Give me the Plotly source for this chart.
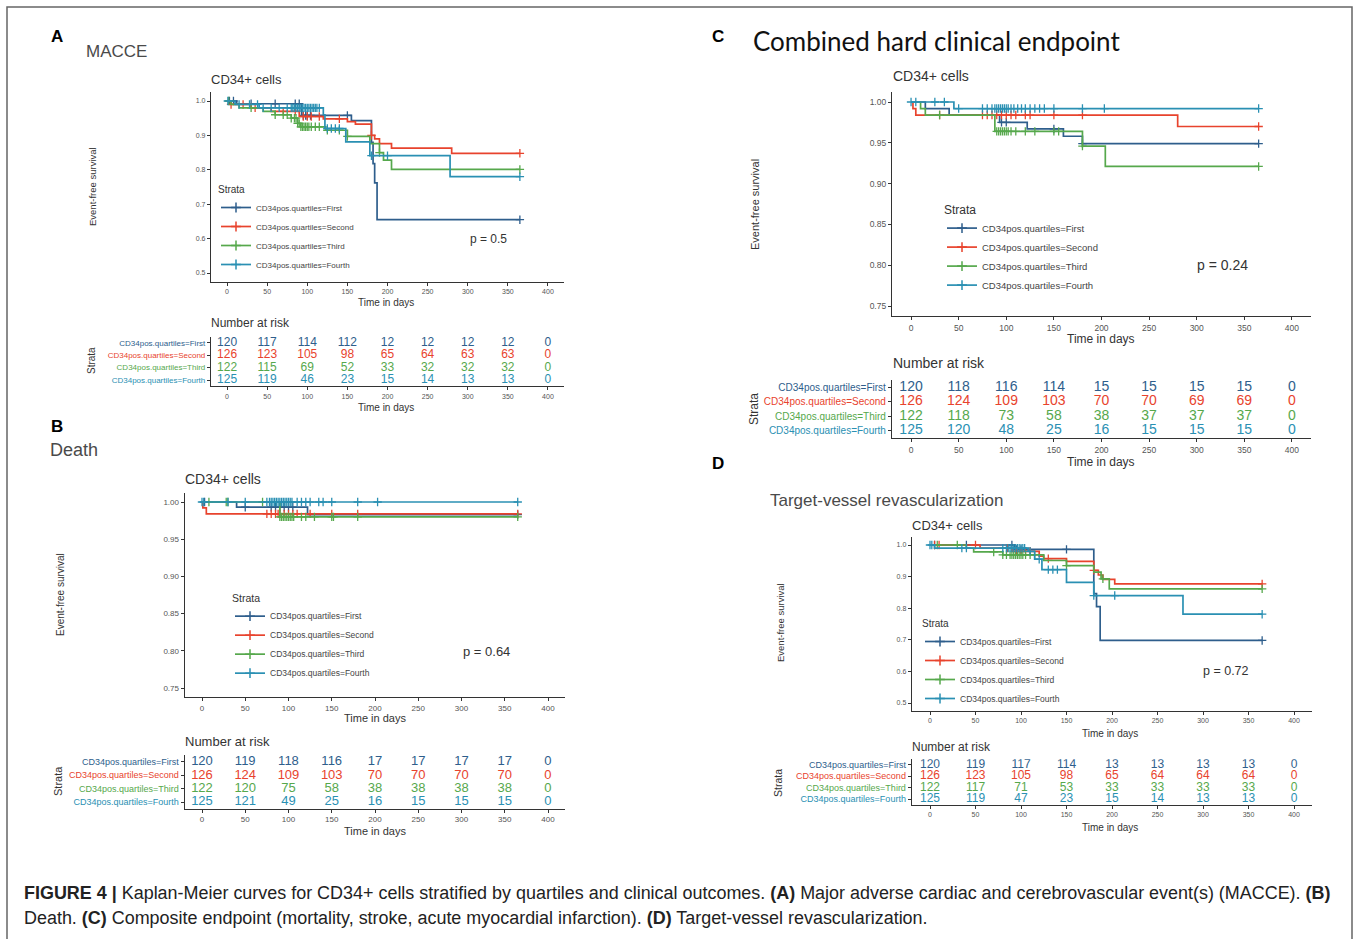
import plotly.graph_objects as go

W, H = 1357, 939
FONT = "Liberation Sans, Arial, sans-serif"

# ---------------- data ----------------
strata_labels = ["CD34pos.quartiles=First", "CD34pos.quartiles=Second",
                 "CD34pos.quartiles=Third", "CD34pos.quartiles=Fourth"]
strata_colors = ["#2E5E8C", "#E8432D", "#56A84C", "#2A90B3"]
risk_times = [0, 50, 100, 150, 200, 250, 300, 350, 400]
x_ticks = [0, 50, 100, 150, 200, 250, 300, 350, 400]

# Panel A: MACCE
a_first_time = [0, 12, 93, 155, 180, 182, 184, 187, 365]
a_first_surv = [1.0, 0.992, 0.958, 0.943, 0.88, 0.818, 0.762, 0.655, 0.655]
a_first_cens = [3, 8, 30, 60, 85, 90, 95, 98, 100, 104, 150, 365]
a_second_time = [0, 5, 30, 55, 90, 120, 150, 160, 180, 184, 190, 205, 280, 365]
a_second_surv = [1.0, 0.99, 0.98, 0.97, 0.955, 0.948, 0.94, 0.933, 0.90, 0.89, 0.876, 0.863, 0.848, 0.848]
a_second_cens = [5, 20, 35, 70, 85, 95, 100, 105, 115, 140, 180, 365]
a_third_time = [0, 5, 15, 45, 60, 80, 88, 92, 123, 150, 178, 190, 195, 205, 365]
a_third_surv = [1.0, 0.99, 0.98, 0.97, 0.96, 0.95, 0.935, 0.925, 0.915, 0.897, 0.876, 0.85, 0.828, 0.801, 0.801]
a_third_cens = [2, 30, 60, 70, 75, 80, 84, 86, 88, 90, 92, 94, 96, 98, 100, 102, 105, 110, 115, 125, 140, 150, 190, 365]
a_fourth_time = [0, 10, 40, 120, 122, 148, 178, 278, 365]
a_fourth_surv = [1.0, 0.99, 0.98, 0.96, 0.92, 0.881, 0.841, 0.78, 0.78]
a_fourth_cens = [1, 15, 28, 38, 45, 55, 65, 75, 80, 82, 84, 86, 88, 90, 92, 94, 96, 98, 100,
                 102, 104, 106, 108, 110, 112, 115, 125, 130, 135, 140, 180, 200, 365]
a_risk_first = [120, 117, 114, 112, 12, 12, 12, 12, 0]
a_risk_second = [126, 123, 105, 98, 65, 64, 63, 63, 0]
a_risk_third = [122, 115, 69, 52, 33, 32, 32, 32, 0]
a_risk_fourth = [125, 119, 46, 23, 15, 14, 13, 13, 0]

# Panel B: Death
b_first_time = [0, 40, 122, 365]
b_first_surv = [1.0, 0.993, 0.983, 0.983]
b_first_cens = [3, 50, 80, 85, 90, 95, 100, 105, 365]
b_second_time = [0, 1, 5, 365]
b_second_surv = [1.0, 0.992, 0.984, 0.984]
b_second_cens = [75, 80, 85, 88, 90, 95, 100, 105, 110, 125, 150, 180, 365]
b_third_time = [0, 90, 365]
b_third_surv = [1.0, 0.98, 0.98]
b_third_cens = [8, 28, 30, 70, 90, 92, 94, 96, 98, 100, 102, 104, 106, 115, 120, 130, 150, 152, 180, 365]
b_fourth_time = [0, 365]
b_fourth_surv = [1.0, 1.0]
b_fourth_cens = [0, 2, 30, 50, 75, 78, 80, 82, 84, 86, 88, 90, 92, 94, 96, 98, 100, 102, 104,
                 110, 115, 120, 125, 135, 140, 150, 180, 203, 365]
b_risk_first = [120, 119, 118, 116, 17, 17, 17, 17, 0]
b_risk_second = [126, 124, 109, 103, 70, 70, 70, 70, 0]
b_risk_third = [122, 120, 75, 58, 38, 38, 38, 38, 0]
b_risk_fourth = [125, 121, 49, 25, 16, 15, 15, 15, 0]

# Panel C: Combined hard clinical endpoint
c_first_time = [0, 15, 40, 93, 122, 160, 180, 365]
c_first_surv = [1.0, 0.992, 0.984, 0.975, 0.967, 0.958, 0.949, 0.949]
c_first_cens = [95, 100, 150, 180, 365]
c_second_time = [0, 2, 5, 280, 365]
c_second_surv = [1.0, 0.992, 0.984, 0.970, 0.970]
c_second_cens = [30, 75, 80, 85, 90, 95, 100, 105, 110, 120, 125, 150, 180, 365]
c_third_time = [0, 10, 15, 88, 180, 204, 365]
c_third_surv = [1.0, 0.992, 0.984, 0.964, 0.946, 0.921, 0.921]
c_third_cens = [30, 90, 92, 94, 96, 98, 100, 102, 105, 110, 120, 130, 150, 155, 180, 365]
c_fourth_time = [0, 45, 365]
c_fourth_surv = [1.0, 0.992, 0.992]
c_fourth_cens = [0, 5, 25, 35, 50, 75, 80, 85, 88, 90, 92, 94, 96, 98, 100, 102, 105, 108,
                 112, 116, 120, 125, 130, 135, 140, 150, 180, 203, 365]
c_risk_first = [120, 118, 116, 114, 15, 15, 15, 15, 0]
c_risk_second = [126, 124, 109, 103, 70, 70, 69, 69, 0]
c_risk_third = [122, 118, 73, 58, 38, 37, 37, 37, 0]
c_risk_fourth = [125, 120, 48, 25, 16, 15, 15, 15, 0]

# Panel D: Target-vessel revascularization
d_first_time = [0, 93, 180, 183, 187, 365]
d_first_surv = [1.0, 0.986, 0.846, 0.805, 0.698, 0.698]
d_first_cens = [5, 40, 90, 95, 100, 150, 365]
d_second_time = [0, 55, 90, 120, 125, 150, 180, 185, 190, 203, 365]
d_second_surv = [1.0, 0.99, 0.98, 0.965, 0.957, 0.948, 0.92, 0.905, 0.891, 0.877, 0.877]
d_second_cens = [5, 10, 50, 85, 95, 100, 105, 110, 130, 180, 365]
d_third_time = [0, 40, 48, 80, 125, 150, 180, 188, 197, 365]
d_third_surv = [1.0, 0.99, 0.978, 0.969, 0.951, 0.935, 0.914, 0.893, 0.861, 0.861]
d_third_cens = [8, 30, 70, 80, 84, 88, 90, 92, 94, 96, 98, 100, 102, 105, 110, 115, 150, 190, 365]
d_fourth_time = [0, 5, 108, 115, 123, 150, 180, 278, 365]
d_fourth_surv = [1.0, 0.99, 0.98, 0.955, 0.922, 0.882, 0.84, 0.781, 0.781]
d_fourth_cens = [0, 2, 35, 40, 80, 84, 86, 88, 90, 92, 94, 96, 98, 100, 102, 104, 110, 120,
                 130, 135, 140, 180, 203, 365]
d_risk_first = [120, 119, 117, 114, 13, 13, 13, 13, 0]
d_risk_second = [126, 123, 105, 98, 65, 64, 64, 64, 0]
d_risk_third = [122, 117, 71, 53, 33, 33, 33, 33, 0]
d_risk_fourth = [125, 119, 47, 23, 15, 14, 13, 13, 0]

y_ticks_wide = [0.5, 0.6, 0.7, 0.8, 0.9, 1.0]
y_ticks_wide_text = ["0.5", "0.6", "0.7", "0.8", "0.9", "1.0"]
y_ticks_narrow = [0.75, 0.80, 0.85, 0.90, 0.95, 1.00]
y_ticks_narrow_text = ["0.75", "0.80", "0.85", "0.90", "0.95", "1.00"]

# ---------------- helpers ----------------
def xdom(p0, p1):
    return [p0 / W, p1 / W]

def ydom(p0, p1):
    return [1 - p1 / H, 1 - p0 / H]

def surv_at(times, survs, t):
    s = survs[0]
    for ti, si in zip(times, survs):
        if ti <= t:
            s = si
        else:
            break
    return s

annotations = []

def ann(text, px, py, size, color="#333333", xanchor="center", yanchor="middle",
        angle=0, family=FONT):
    annotations.append(dict(text=text, x=px / W, y=1 - py / H, xref="paper", yref="paper",
                            showarrow=False, xanchor=xanchor, yanchor=yanchor,
                            textangle=angle, font=dict(size=size, color=color, family=family)))

fig = go.Figure()
layout_axes = {}

panels = [
    dict(curves=[(a_first_time, a_first_surv, a_first_cens), (a_second_time, a_second_surv, a_second_cens),
                 (a_third_time, a_third_surv, a_third_cens), (a_fourth_time, a_fourth_surv, a_fourth_cens)],
         risk=[a_risk_first, a_risk_second, a_risk_third, a_risk_fourth],
         km_x=(211, 564), km_y=(92.4, 281.6), risk_y=(336.8, 386.2),
         yrange=[0.475, 1.025], yticks=(y_ticks_wide, y_ticks_wide_text),
         tick=7, risk_num=12, risk_lab=8, leg=(216, 180), leg_font=8, leg_title=10),
    dict(curves=[(b_first_time, b_first_surv, b_first_cens), (b_second_time, b_second_surv, b_second_cens),
                 (b_third_time, b_third_surv, b_third_cens), (b_fourth_time, b_fourth_surv, b_fourth_cens)],
         risk=[b_risk_first, b_risk_second, b_risk_third, b_risk_fourth],
         km_x=(184.7, 565.3), km_y=(492.7, 697.3), risk_y=(755.3, 808.7),
         yrange=[0.7375, 1.0125], yticks=(y_ticks_narrow, y_ticks_narrow_text),
         tick=8, risk_num=13, risk_lab=9, leg=(230, 588), leg_font=8.5, leg_title=10.5),
    dict(curves=[(c_first_time, c_first_surv, c_first_cens), (c_second_time, c_second_surv, c_second_cens),
                 (c_third_time, c_third_surv, c_third_cens), (c_fourth_time, c_fourth_surv, c_fourth_cens)],
         risk=[c_risk_first, c_risk_second, c_risk_third, c_risk_fourth],
         km_x=(892, 1311), km_y=(91.8, 316.2), risk_y=(379.7, 438.3),
         yrange=[0.7375, 1.0125], yticks=(y_ticks_narrow, y_ticks_narrow_text),
         tick=8.5, risk_num=14, risk_lab=10, leg=(942, 198), leg_font=9.5, leg_title=12),
    dict(curves=[(d_first_time, d_first_surv, d_first_cens), (d_second_time, d_second_surv, d_second_cens),
                 (d_third_time, d_third_surv, d_third_cens), (d_fourth_time, d_fourth_surv, d_fourth_cens)],
         risk=[d_risk_first, d_risk_second, d_risk_third, d_risk_fourth],
         km_x=(911.8, 1312.2), km_y=(537.1, 710.9), risk_y=(759.3, 804.7),
         yrange=[0.475, 1.025], yticks=(y_ticks_wide, y_ticks_wide_text),
         tick=7, risk_num=12, risk_lab=9, leg=(920, 614), leg_font=8.5, leg_title=10),
]

axis_common = dict(showline=True, linecolor="#333333", linewidth=1.2, ticks="outside",
                   ticklen=3, tickcolor="#333333", showgrid=False, zeroline=False,
                   mirror=False, fixedrange=True)

for i, p in enumerate(panels):
    km_n = 2 * i + 1
    rk_n = 2 * i + 2
    kx = "x" if km_n == 1 else f"x{km_n}"
    ky = "y" if km_n == 1 else f"y{km_n}"
    rx, ry = f"x{rk_n}", f"y{rk_n}"
    leg_name = "legend" if i == 0 else f"legend{i + 1}"

    # KM curves
    for j, (t, s, cens) in enumerate(p["curves"]):
        col = strata_colors[j]
        fig.add_trace(go.Scatter(x=t, y=s, mode="lines", line=dict(color=col, width=1.7, shape="hv"),
                                 xaxis=kx, yaxis=ky, showlegend=False, hoverinfo="skip"))
        fig.add_trace(go.Scatter(x=cens, y=[surv_at(t, s, c) for c in cens], mode="markers",
                                 marker=dict(symbol="cross-thin", size=6, line=dict(color=col, width=1.3)),
                                 xaxis=kx, yaxis=ky, showlegend=False, hoverinfo="skip"))
    # legend entries
    for j in range(4):
        col = strata_colors[j]
        fig.add_trace(go.Scatter(x=[None], y=[None], mode="lines+markers", name=strata_labels[j],
                                 line=dict(color=col, width=1.7),
                                 marker=dict(symbol="cross-thin", size=7, line=dict(color=col, width=1.5)),
                                 xaxis=kx, yaxis=ky, legend=leg_name, showlegend=True))
    # risk table numbers
    for j, vals in enumerate(p["risk"]):
        fig.add_trace(go.Scatter(x=risk_times, y=[4 - j] * len(risk_times), mode="text",
                                 text=[str(v) for v in vals],
                                 textfont=dict(color=strata_colors[j], size=p["risk_num"], family=FONT),
                                 xaxis=rx, yaxis=ry, showlegend=False, hoverinfo="skip"))

    tf = dict(size=p["tick"], color="#555555", family=FONT)
    layout_axes[("xaxis" if km_n == 1 else f"xaxis{km_n}")] = dict(
        axis_common, domain=xdom(*p["km_x"]), range=[-20, 420], tickvals=x_ticks,
        anchor=ky, tickfont=tf)
    layout_axes[("yaxis" if km_n == 1 else f"yaxis{km_n}")] = dict(
        axis_common, domain=ydom(*p["km_y"]), range=p["yrange"], tickvals=p["yticks"][0],
        ticktext=p["yticks"][1], anchor=kx, tickfont=tf)
    layout_axes[f"xaxis{rk_n}"] = dict(
        axis_common, domain=xdom(*p["km_x"]), range=[-20, 420], tickvals=x_ticks,
        anchor=ry, tickfont=tf)
    layout_axes[f"yaxis{rk_n}"] = dict(
        axis_common, domain=ydom(*p["risk_y"]), range=[0.5, 4.5], tickvals=[4, 3, 2, 1],
        ticktext=[f'<span style="color:{strata_colors[j]}">{strata_labels[j]}</span>' for j in range(4)],
        anchor=rx, tickfont=dict(size=p["risk_lab"], family=FONT))
    layout_axes[leg_name] = dict(
        x=p["leg"][0] / W, y=1 - p["leg"][1] / H, xanchor="left", yanchor="top",
        bgcolor="rgba(0,0,0,0)", font=dict(size=p["leg_font"], color="#444444", family=FONT),
        title=dict(text="Strata", font=dict(size=p["leg_title"], color="#333333", family=FONT)),
        tracegroupgap=0, itemclick=False, itemdoubleclick=False)

# ---------------- text ----------------
# panel letters
ann("<b>A</b>", 57, 37, 17, "#000000")
ann("<b>B</b>", 57, 427, 17, "#000000")
ann("<b>C</b>", 718, 37, 17, "#000000")
ann("<b>D</b>", 718, 463, 17, "#000000")
# panel titles
ann("MACCE", 84, 52, 17, "#4a4a4a", xanchor="left")
ann("Death", 48, 450, 18, "#4a4a4a", xanchor="left")
ann("Combined hard clinical endpoint", 751, 41, 26, "#111111", xanchor="left", family="Lato, Open Sans, sans-serif")
ann("Target-vessel revascularization", 768, 500, 17, "#4a4a4a", xanchor="left")
# plot titles
for (px, py, sz) in [(209, 79, 13), (183, 479, 14), (891, 76, 14), (910, 525, 13)]:
    ann("CD34+ cells", px, py, sz, "#333333", xanchor="left")
# y labels
for (px, py, sz) in [(93, 187, 9.5), (60, 595, 10), (755, 204, 11), (780, 623, 9.5)]:
    ann("Event-free survival", px, py, sz, "#333333", angle=-90)
# x labels
for (px, py, sz) in [(386, 302, 10), (375, 718, 11), (1101, 339, 12), (1110, 733, 10),
                     (386, 407, 10), (375, 831, 11), (1101, 462, 12), (1110, 827, 10)]:
    ann("Time in days", px, py, sz, "#333333")
# p values
ann("p = 0.5", 488, 239, 12, "#333333")
ann("p = 0.64", 486, 651, 13, "#333333")
ann("p = 0.24", 1222, 265, 14, "#333333")
ann("p = 0.72", 1226, 671, 12.5, "#333333")
# number at risk titles
for (px, py, sz) in [(209, 323, 12), (183, 741, 13), (891, 363, 14), (910, 747, 12)]:
    ann("Number at risk", px, py, sz, "#333333", xanchor="left")
# strata rotated labels
for (px, py, sz) in [(92, 361, 10), (58, 781, 11), (754, 409, 12), (778, 783, 10.5)]:
    ann("Strata", px, py, sz, "#333333", angle=-90)
# caption
CAP = "Liberation Sans Narrow, Liberation Sans, Arial, sans-serif"
ann("<b>FIGURE 4 |</b> Kaplan-Meier curves for CD34+ cells stratified by quartiles and clinical outcomes. "
    "<b>(A)</b> Major adverse cardiac and cerebrovascular event(s) (MACCE). <b>(B)</b>",
    22, 893, 17.95, "#222222", xanchor="left", family=CAP)
ann("Death. <b>(C)</b> Composite endpoint (mortality, stroke, acute myocardial infarction). "
    "<b>(D)</b> Target-vessel revascularization.",
    22, 918, 17.95, "#222222", xanchor="left", family=CAP)

fig.update_layout(**layout_axes)
fig.update_layout(
    width=W, height=H, margin=dict(l=0, r=0, t=0, b=0), autosize=False,
    paper_bgcolor="white", plot_bgcolor="white", showlegend=True,
    font=dict(family=FONT, color="#333333"),
    annotations=annotations,
    shapes=[dict(type="rect", xref="paper", yref="paper", x0=7 / W, x1=1352 / W,
                 y0=1 - 950 / H, y1=1 - 7 / H, line=dict(color="#666666", width=1.5),
                 fillcolor="rgba(0,0,0,0)", layer="below")],
)

fig.write_html("out.html", config={"displayModeBar": False},
               post_script="document.body.style.margin='0';document.body.style.overflow='hidden';")
